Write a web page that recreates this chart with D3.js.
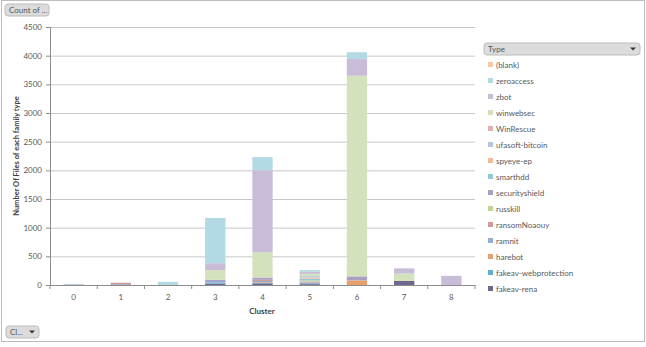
<!DOCTYPE html>
<html>
<head>
<meta charset="utf-8">
<script src="https://cdn.jsdelivr.net/npm/d3@7"></script>
<style>
  body { margin: 0; background: #fff; }
  text { font-family: Lato, "Open Sans", sans-serif; }
</style>
</head>
<body>
<div id="chart"></div>
<script>
// clusters on the x axis
const clusters = ["0", "1", "2", "3", "4", "5", "6", "7", "8"];

// series, bottom of the stack first
const types = ["fakeav-rena", "fakeav-webprotection", "harebot", "ramnit", "ransomNoaouy",
  "russkill", "securityshield", "smarthdd", "spyeye-ep", "ufasoft-bitcoin",
  "WinRescue", "winwebsec", "zbot", "zeroaccess", "(blank)"];

const typeColors = ["#6f6790", "#5bb3cc", "#e8a06a", "#93aed2", "#d39a9a",
  "#c0d39a", "#aba0c4", "#8fc9d8", "#f7b99a", "#b3c7e0",
  "#e0b0b0", "#d3e2bb", "#c9bcd9", "#b3d9e4", "#f9c9a5"];

// counts per type, one value per cluster 0..8
const fakeavRena          = [0, 0, 0, 25, 30, 15, 0, 70, 0];
const fakeavWebprotection = [0, 0, 0, 15, 10, 0, 0, 0, 0];
const harebot             = [0, 0, 0, 0, 10, 0, 80, 0, 0];
const ramnit              = [10, 15, 0, 30, 20, 30, 0, 0, 0];
const ransomNoaouy        = [0, 25, 0, 0, 20, 15, 0, 0, 0];
const russkill            = [0, 0, 0, 0, 0, 20, 0, 0, 0];
const securityshield      = [0, 0, 0, 20, 40, 0, 70, 0, 0];
const smarthdd            = [0, 0, 0, 0, 0, 30, 0, 0, 0];
const spyeyeEp            = [0, 0, 0, 0, 0, 20, 0, 0, 0];
const ufasoftBitcoin      = [0, 0, 0, 0, 0, 25, 0, 0, 0];
const winRescue           = [0, 0, 0, 0, 0, 0, 0, 0, 0];
const winwebsec           = [0, 0, 0, 170, 440, 40, 3500, 130, 0];
const zbot                = [0, 0, 0, 120, 1430, 35, 290, 90, 160];
const zeroaccess          = [0, 0, 55, 790, 230, 30, 120, 0, 0];
const blank               = [0, 0, 0, 0, 0, 0, 0, 0, 0];

const seriesValues = [fakeavRena, fakeavWebprotection, harebot, ramnit, ransomNoaouy,
  russkill, securityshield, smarthdd, spyeyeEp, ufasoftBitcoin,
  winRescue, winwebsec, zbot, zeroaccess, blank];

const yTicks = [0, 500, 1000, 1500, 2000, 2500, 3000, 3500, 4000, 4500];

// legend lists the series top of stack first
const legendOrder = ["(blank)", "zeroaccess", "zbot", "winwebsec", "WinRescue",
  "ufasoft-bitcoin", "spyeye-ep", "smarthdd", "securityshield", "russkill",
  "ransomNoaouy", "ramnit", "harebot", "fakeav-webprotection", "fakeav-rena"];

const W = 646, H = 347;
const margin = {top: 27, right: 171, bottom: 62, left: 50};
const width = W - margin.left - margin.right;
const height = H - margin.top - margin.bottom;

const svg = d3.select("#chart").append("svg")
  .attr("width", W)
  .attr("height", H);

// outer frame
svg.append("rect")
  .attr("x", 1.5).attr("y", 0.5)
  .attr("width", W - 3).attr("height", H - 6)
  .attr("fill", "#fff")
  .attr("stroke", "#bdbdbd");

// build rows for the stack
const rows = clusters.map((c, i) => {
  const r = {cluster: c};
  types.forEach((t, j) => { r[t] = seriesValues[j][i]; });
  return r;
});
const stacked = d3.stack().keys(types)(rows);

const color = d3.scaleOrdinal().domain(types).range(typeColors);

const x = d3.scaleBand().domain(clusters).range([0, width]).paddingInner(0.57).paddingOuter(0.285);
const xOuter = d3.scaleBand().domain(clusters).range([0, width]);
const y = d3.scaleLinear().domain([0, 4500]).range([height, 0]);

const g = svg.append("g")
  .attr("transform", "translate(" + margin.left + "," + margin.top + ")");

// gridlines
g.append("g")
  .attr("class", "grid")
  .call(d3.axisLeft(y).tickValues(yTicks.slice(1)).tickSize(-width).tickFormat(""))
  .call(s => s.select(".domain").remove())
  .call(s => s.selectAll("line").attr("stroke", "#c8c8c8"));

// bars
g.append("g")
  .selectAll("g")
  .data(stacked)
  .enter().append("g")
  .attr("fill", d => color(d.key))
  .selectAll("rect")
  .data(d => d)
  .enter().append("rect")
  .attr("x", d => x(d.data.cluster))
  .attr("y", d => y(d[1]))
  .attr("height", d => y(d[0]) - y(d[1]))
  .attr("width", x.bandwidth());

// y axis
const yAxis = g.append("g")
  .call(d3.axisLeft(y).tickValues(yTicks).tickFormat(d3.format("d")).tickSize(4).tickPadding(4));
yAxis.select(".domain").attr("stroke", "#8c8c8c");
yAxis.selectAll("line").attr("stroke", "#8c8c8c");
yAxis.selectAll("text").attr("fill", "#595959").style("font-size", "8px");

// x axis, ticks sit between categories
const xAxis = g.append("g")
  .attr("transform", "translate(0," + height + ")")
  .call(d3.axisBottom(x).tickSize(0).tickPadding(9));
xAxis.select(".domain").attr("stroke", "#8c8c8c");
xAxis.selectAll("text").attr("fill", "#595959").style("font-size", "8px");
xAxis.selectAll(".sep")
  .data(clusters.concat(["end"]))
  .enter().append("line")
  .attr("class", "sep")
  .attr("x1", (d, i) => i * xOuter.step())
  .attr("x2", (d, i) => i * xOuter.step())
  .attr("y1", 0).attr("y2", 4)
  .attr("stroke", "#8c8c8c");

// axis titles
svg.append("text")
  .attr("transform", "translate(19," + (margin.top + height / 2) + ") rotate(-90)")
  .attr("text-anchor", "middle")
  .style("font-size", "7.5px")
  .style("font-weight", "bold")
  .attr("fill", "#404040")
  .text("Number Of Files of each family type");

svg.append("text")
  .attr("x", 262).attr("y", 314)
  .attr("text-anchor", "middle")
  .style("font-size", "8px")
  .style("font-weight", "bold")
  .attr("fill", "#404040")
  .text("Cluster");

// pivot field buttons
function fieldButton(bx, by, bw, label, arrow) {
  const b = svg.append("g").attr("transform", "translate(" + bx + "," + by + ")");
  b.append("rect")
    .attr("width", bw).attr("height", 12).attr("rx", 3)
    .attr("fill", "#dcdcdc").attr("stroke", "#bcbcbc");
  b.append("text")
    .attr("x", 4).attr("y", 9)
    .style("font-size", "8px")
    .attr("fill", "#555")
    .text(label);
  if (arrow) {
    b.append("path")
      .attr("d", "M" + (bw - 10) + ",4.5 L" + (bw - 4) + ",4.5 L" + (bw - 7) + ",7.5 Z")
      .attr("fill", "#333");
  }
}
fieldButton(5, 4, 44, "Count of ...", false);
fieldButton(6, 326, 33, "Cl...", true);
fieldButton(484, 43, 156, "Type", true);

// legend
const legend = svg.append("g").attr("transform", "translate(488,66)");
const item = legend.selectAll("g")
  .data(legendOrder)
  .enter().append("g")
  .attr("transform", (d, i) => "translate(0," + i * 16 + ")");
item.append("rect")
  .attr("x", 0).attr("y", -4)
  .attr("width", 5).attr("height", 5)
  .attr("fill", d => color(d));
item.append("text")
  .attr("x", 8).attr("y", 2)
  .style("font-size", "8px")
  .attr("fill", "#595959")
  .text(d => d);
</script>
</body>
</html>
